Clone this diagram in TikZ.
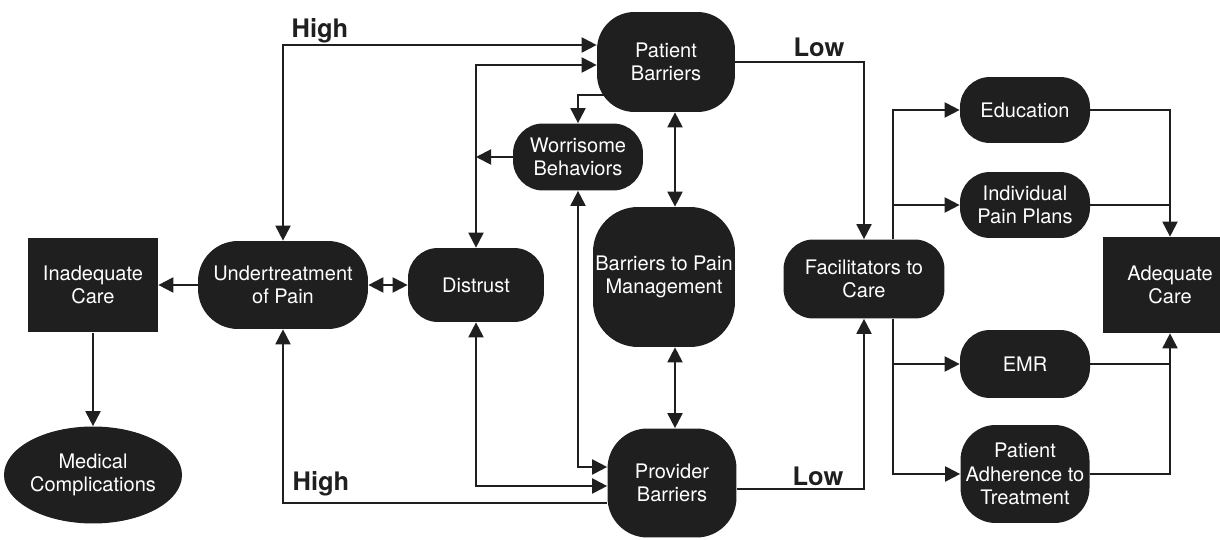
\documentclass[tikz,border=0pt]{standalone}
\usepackage{fontspec}
\setmainfont{TeX Gyre Heros}
\usepackage{tikz}
\usetikzlibrary{
    shapes.geometric,
    arrows.meta
}
\tikzset{
  basic/.style = {
      draw=none,
      fill=black!88,
      text=white,
      font=\fontsize{11.4}{13.2}\selectfont,
      align=center,
      inner sep=0pt
  },
  round/.style = {
      basic,
      rectangle,
      rounded corners=0.6cm
  },
  box/.style = {
      basic,
      rectangle
  },
  oval/.style = {
      basic,
      ellipse
  },
  grade/.style = {
      font=\fontsize{14.5}{16}\selectfont\bfseries,
      text=black!88
  },
  plain/.style = {
      draw=black!88,
      line width=1.1pt
  },
  link/.style = {
      plain,
      -{Triangle[length=0.3cm, width=0.3cm]}
  },
  twoway/.style = {
      plain,
      {Triangle[length=0.3cm, width=0.3cm]}-{Triangle[length=0.3cm, width=0.3cm]}
  }
}

\begin{document}
\begin{tikzpicture}[x=0.02cm, y=-0.02cm]
    \useasboundingbox (0,0) rectangle (1220,540);
    % Nodes
    \node[box, minimum width=2.6cm, minimum height=1.9cm] (inad) at (93,285) {Inadequate\\Care};
    \node[oval, minimum width=3.4cm, minimum height=1.94cm] (medic) at (93,475) {Medical\\Complications};
    \node[round, rounded corners=0.8cm, minimum width=3.4cm, minimum height=1.76cm] (under) at (283,285) {Undertreatment\\of Pain};
    \node[round, minimum width=2.72cm, minimum height=1.48cm] (distrust) at (476,285) {Distrust};
    \node[round, rounded corners=0.75cm, minimum width=2.76cm, minimum height=2cm] (patient) at (666,62) {Patient\\Barriers};
    \node[round, minimum width=2.6cm, minimum height=1.34cm] (worry) at (578,157) {Worrisome\\Behaviors};
    \node[round, rounded corners=0.9cm, minimum width=2.84cm, minimum height=2.8cm] (bpm) at (664,277) {Barriers to Pain\\Management};
    \node[round, rounded corners=0.8cm, minimum width=2.58cm, minimum height=2.18cm] (prov) at (672,483) {Provider\\Barriers};
    \node[round, minimum width=3.22cm, minimum height=1.58cm] (facil) at (864,279) {Facilitators to\\Care};
    \node[round, minimum width=2.6cm, minimum height=1.32cm] (edu) at (1025,110) {Education};
    \node[round, minimum width=2.6cm, minimum height=1.32cm] (indiv) at (1025,205) {Individual\\Pain Plans};
    \node[box, minimum width=2.7cm, minimum height=1.92cm] (adeq) at (1170,285) {Adequate\\Care};
    \node[round, minimum width=2.6cm, minimum height=1.36cm] (emr) at (1025,364) {EMR};
    \node[round, rounded corners=0.7cm, minimum width=2.58cm, minimum height=1.96cm] (adher) at (1025,474) {Patient\\Adherence to\\Treatment};
    % Labels
    \node[grade] (hightop) at (320,31) {High};
    \node[grade] (highbot) at (321,484) {High};
    \node[grade] (lowtop) at (819,47) {Low};
    \node[grade] (lowbot) at (818,476) {Low};
    % Edges
    \draw[link] (under) -- (inad);
    \draw[link] (inad) -- (medic);
    \draw[twoway] (under) -- (distrust);
    \draw[twoway] (patient.west |- 0,45) -| (under.north);
    \draw[twoway] (patient.west |- 0,65) -| (distrust.north);
    \draw[link] ([xshift=0.3cm]patient.west |- 0,95) -| (worry.north);
    \draw[link] (worry.west) -- (worry.west -| distrust.north);
    \draw[twoway] (675,0 |- patient.south) -- (675,0 |- bpm.north);
    \draw[twoway] (675,0 |- bpm.south) -- (675,0 |- prov.north);
    \draw[twoway] (worry.south) |- (prov.west |- 0,467);
    \draw[twoway] (distrust.south) |- (prov.west |- 0,486);
    \draw[link] (prov.west |- 0,503) -| (under.south);
    \draw[link] (patient.east) -| (facil.north);
    \draw[link] (prov.east |- 0,489) -| (facil.south);
    \draw[link] (893,0 |- facil.north) |- (edu.west);
    \draw[link] (893,0 |- facil.north) |- (indiv.west);
    \draw[link] (893,0 |- facil.south) |- (emr.west);
    \draw[link] (893,0 |- facil.south) |- (adher.west);
    \draw[link] (edu.east) -| (adeq.north);
    \draw[plain] (indiv.east) -- (indiv.east -| adeq.north);
    \draw[link] (emr.east) -| (adeq.south);
    \draw[plain] (adher.east) -| (emr.east -| adeq.south);
\end{tikzpicture}
\end{document}
